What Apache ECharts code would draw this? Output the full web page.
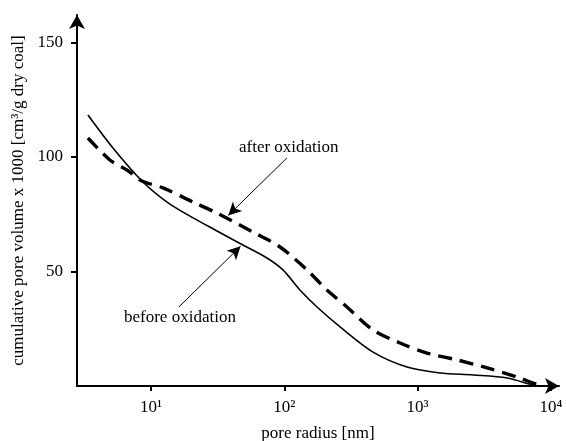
<!DOCTYPE html>
<html>
<head>
<meta charset="utf-8">
<script src="https://cdn.jsdelivr.net/npm/echarts@6/dist/echarts.min.js"></script>
<style>
  html, body { margin: 0; padding: 0; background: #fff; }
  #chart { width: 566px; height: 441px; }
</style>
</head>
<body>
<div id="chart"></div>
<script>
// pore radius [nm] / cumulative volume
const beforeRadius = [3.37, 5.19, 8.56, 13.2, 20.7, 31.3, 46.6, 74.1, 97.7, 131, 176, 262, 463, 832, 1471, 2605, 4690, 7350, 8280];
const beforeVolume = [118.3, 103.9, 89.5, 80.3, 73.4, 67.7, 62.2, 55.9, 50.7, 41.9, 34.5, 25.8, 14.8, 8.3, 5.7, 4.8, 3.5, 0.4, 0];

const afterRadius = [3.37, 4.92, 6.61, 8.56, 12.3, 20.7, 31.3, 58.2, 92.9, 148, 209, 295, 463, 738, 1175, 1976, 3320, 5570, 7350, 8730];
const afterVolume = [108.3, 98.7, 94.3, 89.5, 86.5, 80.3, 75.5, 67.2, 60.7, 50.7, 41.9, 34.5, 24.5, 18.8, 14.4, 11.4, 7.9, 3.9, 1.3, 0];

const xTicks = [10, 100, 1000, 10000];
const xTickLabels = ['10¹', '10²', '10³', '10⁴'];
const yTicks = [50, 100, 150];

// annotation: label position, arrow start, arrow end (data coords)
const annoText = ['after oxidation', 'before oxidation'];
const annoLabelAt = [[108, 104], [16.5, 30]];
const annoFrom = [[104.7, 99.6], [16.2, 34.5]];
const annoTo = [[38, 74.5], [47, 61]];

const font = 'Liberation Serif';

const myChart = echarts.init(document.getElementById('chart'));

const pairs = (xs, ys) => xs.map((x, i) => [x, ys[i]]);

const option = {
  animation: false,
  grid: { left: 77, right: 7, top: 15, bottom: 55, outerBoundsMode: 'none' },
  xAxis: {
    type: 'log',
    min: 2.79,
    max: 11480,
    name: 'pore radius [nm]',
    nameLocation: 'middle',
    nameGap: 39,
    nameTextStyle: { fontFamily: font, fontSize: 17, color: '#000' },
    axisLine: {
      lineStyle: { color: '#000', width: 2 },
      symbol: ['none', 'arrow'],
      symbolSize: [12, 14]
    },
    axisTick: {
      customValues: xTicks,
      length: 5,
      lineStyle: { color: '#000', width: 2 }
    },
    axisLabel: {
      customValues: xTicks,
      margin: 13,
      fontFamily: font,
      fontSize: 17,
      color: '#000',
      formatter: v => xTickLabels[xTicks.indexOf(Math.round(v))] || ''
    },
    splitLine: { show: false }
  },
  yAxis: {
    type: 'value',
    min: 0,
    max: 162,
    name: 'cumulative pore volume x 1000 [cm³/g dry coal]',
    nameLocation: 'middle',
    nameGap: 50,
    nameTextStyle: { fontFamily: font, fontSize: 17, color: '#000' },
    axisLine: {
      lineStyle: { color: '#000', width: 2 },
      symbol: ['none', 'arrow'],
      symbolSize: [12, 14]
    },
    axisTick: {
      customValues: yTicks,
      length: 6,
      lineStyle: { color: '#000', width: 2 }
    },
    axisLabel: {
      customValues: yTicks,
      margin: 14,
      fontFamily: font,
      fontSize: 17,
      color: '#000'
    },
    splitLine: { show: false }
  },
  series: [
    {
      name: 'before oxidation',
      type: 'line',
      data: pairs(beforeRadius, beforeVolume),
      smooth: 0.3,
      showSymbol: false,
      lineStyle: { color: '#000', width: 1.6 },
      silent: true,
      markLine: {
        silent: true,
        symbol: ['none', 'arrow'],
        symbolSize: [10, 13],
        lineStyle: { color: '#000', width: 1, type: 'solid' },
        label: { show: false },
        data: annoFrom.map((f, i) => [{ coord: f }, { coord: annoTo[i] }])
      },
      markPoint: {
        silent: true,
        symbol: 'circle',
        symbolSize: 0,
        label: {
          show: true,
          position: 'inside',
          fontFamily: font,
          fontSize: 17,
          color: '#000',
          formatter: p => p.name
        },
        data: annoText.map((t, i) => ({ name: t, coord: annoLabelAt[i] }))
      }
    },
    {
      name: 'after oxidation',
      type: 'line',
      data: pairs(afterRadius, afterVolume),
      smooth: 0.3,
      showSymbol: false,
      lineStyle: { color: '#000', width: 3.4, type: [14, 8] },
      silent: true
    }
  ]
};

myChart.setOption(option);

window.addEventListener('resize', () => {
  myChart.resize();
});
</script>
</body>
</html>
